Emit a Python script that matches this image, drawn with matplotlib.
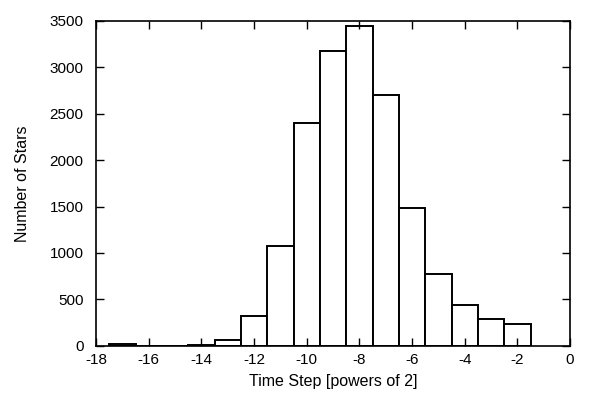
import matplotlib
matplotlib.use("Agg")
import matplotlib.pyplot as plt

plt.rcParams['font.family'] = ['Liberation Sans', 'DejaVu Sans']
plt.rcParams['axes.unicode_minus'] = False

# histogram of time steps (bin centres in powers of 2)
time_steps = [-17, -16, -15, -14, -13, -12, -11, -10, -9, -8, -7, -6, -5, -4, -3, -2]
n_stars = [15, 0, 0, 12, 62, 317, 1078, 2404, 3178, 3440, 2699, 1488, 776, 439, 285, 237]

fig = plt.figure(figsize=(6, 3.93), dpi=100)
ax = fig.add_axes([0.16, 0.12, 0.79, 0.827])

ax.bar(time_steps, n_stars, width=1.0, color='white', edgecolor='black', linewidth=1.4)

ax.set_xlim(-18, 0)
ax.set_ylim(0, 3500)
ax.set_xticks(range(-18, 1, 2))
ax.set_yticks(range(0, 3501, 500))
ax.tick_params(direction='in', top=True, right=True, length=6, width=1, labelsize=11)
ax.tick_params(axis='y', pad=9)
ax.tick_params(axis='x', pad=5)
for s in ax.spines.values():
    s.set_linewidth(1.2)

ax.set_xlabel("Time Step [powers of 2]", fontsize=11.5, labelpad=5)
ax.set_ylabel("Number of Stars", fontsize=11.5, labelpad=14)

fig.savefig("out.png", dpi=100)
